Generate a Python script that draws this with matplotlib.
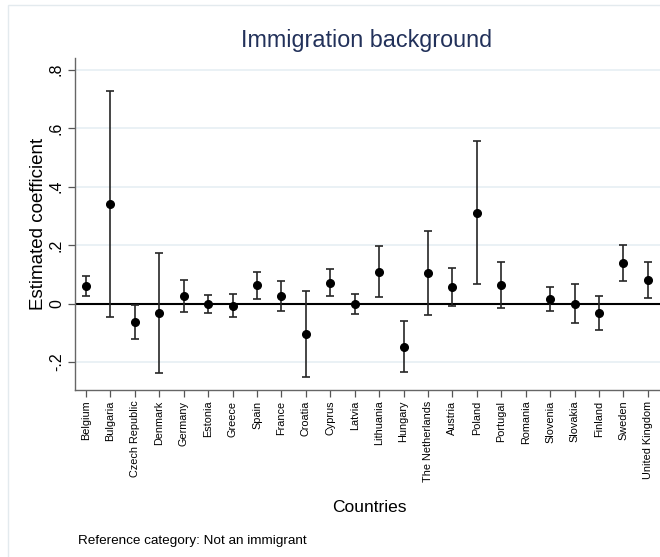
import numpy as np
import matplotlib
matplotlib.use("Agg")
import matplotlib.pyplot as plt
from matplotlib.patches import Rectangle

plt.rcParams['font.family'] = ['Liberation Sans', 'DejaVu Sans']

countries = ["Belgium", "Bulgaria", "Czech Republic", "Denmark", "Germany",
             "Estonia", "Greece", "Spain", "France", "Croatia", "Cyprus",
             "Latvia", "Lithuania", "Hungary", "The Netherlands", "Austria",
             "Poland", "Portugal", "Romania", "Slovenia", "Slovakia",
             "Finland", "Sweden", "United Kingdom"]

# point estimates with 95% confidence bounds (Romania not estimated)
coef = [0.061, 0.340, -0.064, -0.032, 0.026, -0.002, -0.007, 0.062, 0.026,
        -0.105, 0.071, -0.003, 0.109, -0.148, 0.103, 0.056, 0.310, 0.063,
        np.nan, 0.014, 0.000, -0.032, 0.138, 0.080]
ci_low = [0.025, -0.046, -0.122, -0.238, -0.030, -0.034, -0.045, 0.017,
          -0.026, -0.250, 0.026, -0.035, 0.023, -0.234, -0.040, -0.008,
          0.068, -0.014, np.nan, -0.027, -0.066, -0.092, 0.077, 0.019]
ci_high = [0.095, 0.726, -0.005, 0.172, 0.081, 0.030, 0.032, 0.108, 0.078,
           0.042, 0.119, 0.031, 0.196, -0.060, 0.247, 0.120, 0.556, 0.141,
           np.nan, 0.056, 0.068, 0.026, 0.202, 0.142]

yticks = [-0.2, 0, 0.2, 0.4, 0.6, 0.8]
ytick_labels = ["-.2", "0", ".2", ".4", ".6", ".8"]

coef = np.array(coef)
lo = np.array(ci_low)
hi = np.array(ci_high)
x = np.arange(len(countries))

fig = plt.figure(figsize=(6.6, 5.57), dpi=100)
ax = fig.add_axes([75 / 660, 1 - 389.5 / 557, 585 / 660, 331.5 / 557])

# light outline of the graph region
fig.add_artist(Rectangle((8 / 660, -0.05), 1.1, 1 - 5 / 557 + 0.05,
                         transform=fig.transFigure, fill=False,
                         edgecolor='#e3eaee', linewidth=1.0))

for yv in yticks:
    if yv != 0:
        ax.axhline(yv, color='#e4edf3', linewidth=1.1, zorder=0)
ax.axhline(0, color='black', linewidth=1.5, zorder=1)

ax.errorbar(x, coef, yerr=[coef - lo, hi - coef], fmt='none',
            ecolor='#262626', elinewidth=1.2, capsize=3.2, capthick=1.2,
            zorder=2)
ax.plot(x, coef, 'o', color='black', markersize=5.5, zorder=3)

ax.set_xlim(-0.45, 23.5)
ax.set_ylim(-0.294, 0.84)

ax.set_yticks(yticks)
ax.set_yticklabels(ytick_labels, rotation=90, va='center', fontsize=11.5)
ax.set_xticks(x)
ax.set_xticklabels(countries, rotation=90, fontsize=7.8)
ax.tick_params(axis='y', length=5, width=0.9, color='#555555', pad=3)
ax.tick_params(axis='x', length=5, width=0.9, color='#555555', pad=3)

for side in ['top', 'right']:
    ax.spines[side].set_visible(False)
for side in ['left', 'bottom']:
    ax.spines[side].set_color('#666666')
    ax.spines[side].set_linewidth(1.0)

fig.text(367 / 660, 1 - 41 / 557, "Immigration background",
         ha='center', va='center', fontsize=16.8, color='#22315a')
fig.text(39 / 660, 1 - 224 / 557, "Estimated coefficient", rotation=90,
         ha='center', va='center', fontsize=13.5)
fig.text(369 / 660, 1 - 507 / 557, "Countries", ha='center', va='center',
         fontsize=12.5)
fig.text(78 / 660, 1 - 541 / 557, "Reference category: Not an immigrant",
         ha='left', va='center', fontsize=9.7)

fig.savefig("out.png", dpi=100)
